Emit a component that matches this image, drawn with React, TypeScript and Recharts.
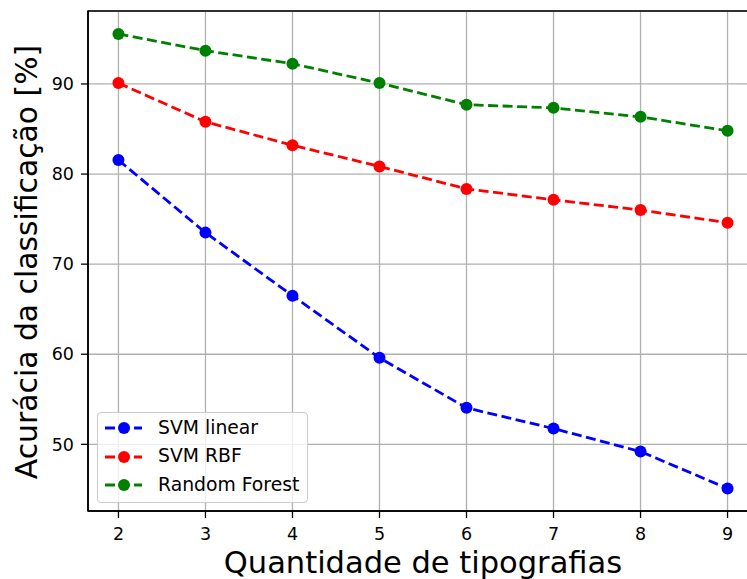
import React from 'react';
import {
    LineChart,
    Line,
    XAxis,
    YAxis,
    CartesianGrid,
    Legend,
    ReferenceArea,
} from 'recharts';

// Quantidade de tipografias
const categories = [2, 3, 4, 5, 6, 7, 8, 9];

// Acurácia (%) por classificador
const svmLinear = [81.55, 73.5, 66.5, 59.6, 54.05, 51.75, 49.2, 45.1];
const svmRbf = [90.1, 85.8, 83.2, 80.85, 78.35, 77.15, 76.0, 74.6];
const randomForest = [95.55, 93.7, 92.25, 90.1, 87.7, 87.35, 86.35, 84.8];

const xTicks = [2, 3, 4, 5, 6, 7, 8, 9];
const yTicks = [50, 60, 70, 80, 90];
const xDomain: [number, number] = [1.65, 9.35];
const yDomain: [number, number] = [42.6, 98.1];

const seriesInfo = [
    { key: 'svmLinear', name: 'SVM linear', color: '#0000ff' },
    { key: 'svmRbf', name: 'SVM RBF', color: '#ff0000' },
    { key: 'randomForest', name: 'Random Forest', color: '#008000' },
];

const data = categories.map((c, i) => ({
    x: c,
    svmLinear: svmLinear[i],
    svmRbf: svmRbf[i],
    randomForest: randomForest[i],
}));

const FONT = '"DejaVu Sans", sans-serif';
const DASH = '10 4.5';

const XLabel = ({ viewBox }: any) => {
    const cx = viewBox.x + viewBox.width / 2;
    return (
        <text x={cx} y={viewBox.y + viewBox.height - 6} textAnchor="middle"
            fontSize={30.5} fontFamily={FONT} fill="#000">
            Quantidade de tipografias
        </text>
    );
};

const YLabel = ({ viewBox }: any) => {
    const x = viewBox.x + 37;
    const y = viewBox.y + viewBox.height / 2 + 1;
    return (
        <text x={x} y={y} transform={`rotate(-90 ${x} ${y})`} textAnchor="middle"
            fontSize={29.8} fontFamily={FONT} fill="#000">
            Acurácia da classificação [%]
        </text>
    );
};

const LegendBox = () => (
    <div style={{
        boxSizing: 'border-box',
        width: 211,
        height: 91,
        border: '1px solid #cccccc',
        borderRadius: 4,
        background: 'rgba(255,255,255,0.8)',
        paddingTop: 1,
        fontFamily: FONT,
        fontSize: 18.8,
        color: '#000',
    }}>
        {seriesInfo.map((s) => (
            <div key={s.key} style={{ display: 'flex', alignItems: 'center', height: 28.4 }}>
                <svg width={53} height={20} style={{ marginLeft: 7, flexShrink: 0 }}>
                    <line x1={0} y1={10} x2={37} y2={10} stroke={s.color} strokeWidth={2.8} strokeDasharray={DASH} />
                    <circle cx={19} cy={10} r={6} fill={s.color} />
                </svg>
                <span style={{ lineHeight: 1 }}>{s.name}</span>
            </div>
        ))}
    </div>
);

export default function App() {
    return (
        <div style={{ position: 'absolute', left: 0, top: 0, width: 747, height: 579, overflow: 'hidden', background: '#fff' }}>
            <LineChart
                width={760}
                height={579}
                data={data}
                margin={{ top: 11, right: 2, left: 0, bottom: 0 }}
            >
                <CartesianGrid stroke="#b0b0b0" strokeWidth={1.3} />
                <ReferenceArea
                    x1={xDomain[0]} x2={xDomain[1]} y1={yDomain[0]} y2={yDomain[1]}
                    fill="none" stroke="#000" strokeWidth={1.5} ifOverflow="visible"
                />
                <XAxis
                    dataKey="x"
                    type="number"
                    domain={xDomain}
                    ticks={xTicks}
                    allowDataOverflow
                    height={68}
                    tickSize={7}
                    tickMargin={10}
                    axisLine={{ stroke: '#000', strokeWidth: 1.5 }}
                    tickLine={{ stroke: '#000', strokeWidth: 1.3 }}
                    tick={{ fill: '#000', fontSize: 17.5, fontFamily: FONT }}
                    label={<XLabel />}
                />
                <YAxis
                    type="number"
                    domain={yDomain}
                    ticks={yTicks}
                    allowDataOverflow
                    width={88}
                    tickSize={7}
                    tickMargin={7}
                    axisLine={{ stroke: '#000', strokeWidth: 1.5 }}
                    tickLine={{ stroke: '#000', strokeWidth: 1.3 }}
                    tick={{ fill: '#000', fontSize: 17.5, fontFamily: FONT }}
                    label={<YLabel />}
                />
                <Legend
                    layout="vertical"
                    align="center"
                    verticalAlign="middle"
                    content={<LegendBox />}
                    wrapperStyle={{ left: 97, top: 412, width: 211, height: 91, bottom: 'auto', right: 'auto' }}
                />
                {seriesInfo.map((s) => (
                    <Line
                        key={s.key}
                        type="linear"
                        dataKey={s.key}
                        name={s.name}
                        stroke={s.color}
                        strokeWidth={2.8}
                        strokeDasharray={DASH}
                        dot={{ r: 6, fill: s.color, stroke: 'none', strokeWidth: 0, strokeDasharray: '' }}
                        activeDot={false}
                        isAnimationActive={false}
                    />
                ))}
            </LineChart>
        </div>
    );
}
